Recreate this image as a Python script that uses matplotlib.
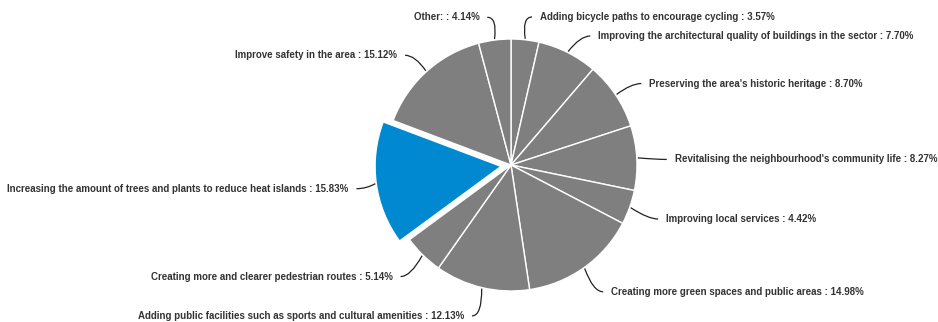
import matplotlib.pyplot as plt
import numpy as np
from matplotlib.path import Path
from matplotlib.patches import PathPatch

# Answers, clockwise from 12 o'clock
categories = [
    "Adding bicycle paths to encourage cycling",
    "Improving the architectural quality of buildings in the sector",
    "Preserving the area's historic heritage",
    "Revitalising the neighbourhood's community life",
    "Improving local services",
    "Creating more green spaces and public areas",
    "Adding public facilities such as sports and cultural amenities",
    "Creating more and clearer pedestrian routes",
    "Increasing the amount of trees and plants to reduce heat islands",
    "Improve safety in the area",
    "Other:",
]
shares = [3.57, 7.70, 8.70, 8.27, 4.42, 14.98, 12.13, 5.14, 15.83, 15.12, 4.14]
highlight = "Increasing the amount of trees and plants to reduce heat islands"

W, H = 938, 322
cx, cy = 511, H - 165     # pie centre in pixel units (y up)
r = 126
label_r = 152
pad = 12
min_gap = 19
gray = "#7f7f7f"
blue = "#0088d1"
text_col = "#333333"

fig = plt.figure(figsize=(W / 100, H / 100), dpi=100)
ax = fig.add_axes([0, 0, 1, 1])

colors = [blue if c == highlight else gray for c in categories]
explode = [10 if c == highlight else 0 for c in categories]

ax.pie(shares, colors=colors, explode=explode, startangle=90,
       counterclock=False, radius=r, center=(cx, cy),
       wedgeprops=dict(edgecolor="white", linewidth=1))

# pie() sets its own limits, so fix the pixel frame afterwards
ax.set_xlim(0, W)
ax.set_ylim(0, H)
ax.set_aspect("equal")
ax.axis("off")

# label anchors on a ring around the pie
total = sum(shares)
mids = (np.cumsum(shares) - np.array(shares) / 2) / total * 2 * np.pi
sx, sy = np.sin(mids), np.cos(mids)
side = np.where(sx >= 0, 1, -1)
ly = cy - 3 + label_r * sy

# push labels apart (top to bottom) on each side
for s in (1, -1):
    idx = [i for i in np.argsort(-ly) if side[i] == s]
    for a, b in zip(idx, idx[1:]):
        if ly[a] - ly[b] < min_gap:
            ly[b] = ly[a] - min_gap
dy = np.clip(ly - (cy - 3), -label_r, label_r)
lx = cx + side * np.sqrt(label_r ** 2 - dy ** 2)

for i, (name, v) in enumerate(zip(categories, shares)):
    ex = explode[i]
    ox, oy = cx + ex * sx[i], cy + ex * sy[i]
    p0 = (ox + (r + 1) * sx[i], oy + (r + 1) * sy[i])
    p2 = (lx[i] + side[i] * 4, ly[i])
    ctrl = (lx[i] - side[i] * 6, ly[i])
    path = Path([p0, ctrl, p2], [Path.MOVETO, Path.CURVE3, Path.CURVE3])
    ax.add_patch(PathPatch(path, fill=False, edgecolor="#222222", linewidth=0.9))
    ax.text(lx[i] + side[i] * pad, ly[i], f"{name} : {v:.2f}%",
            ha="left" if side[i] > 0 else "right", va="center",
            fontsize=7, fontweight="bold", color=text_col,
            family="Liberation Sans")

fig.savefig("out.png", dpi=100)
